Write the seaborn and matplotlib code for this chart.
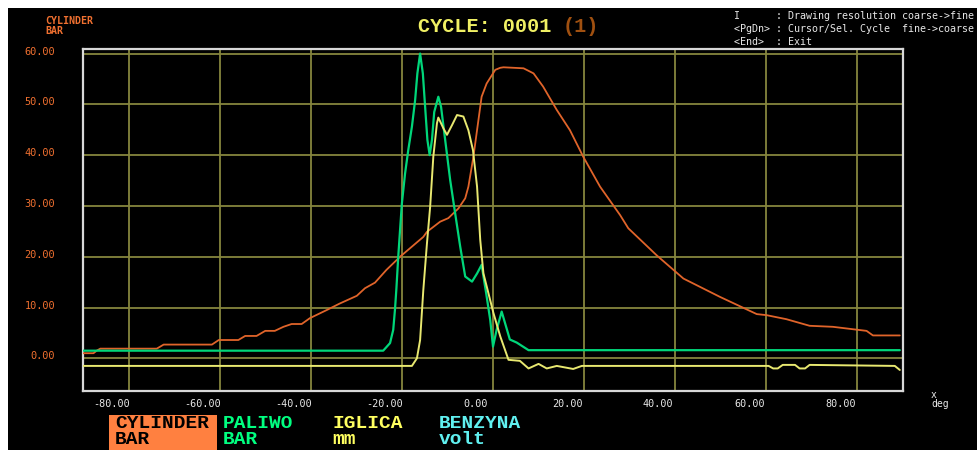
import matplotlib
matplotlib.use("Agg")
import matplotlib.pyplot as plt
from matplotlib.patches import Rectangle
from matplotlib.transforms import ScaledTranslation
import pandas as pd
import seaborn as sns

# Crank angle [deg] and channel readings for cycle 0001
cyl_deg = [-90, -87.7, -87, -86.2, -73.8, -72.3, -61.7, -60.2, -55.9, -54.4, -51.9, -50, -47.9,
           -46, -44.2, -42, -40.2, -36.5, -33.6, -29.9, -28.1, -25.9, -23.4, -20.4, -15.3,
           -14.5, -11.6, -9.8, -7.6, -6.1, -5.4, -4.3, -3.2, -2.5, -1.4, 0.5, 1.6, 2.3, 6.7,
           8.9, 11, 14, 16.9, 19.8, 23.5, 27.9, 29.7, 35.9, 41.8, 49.8, 57.9, 60, 64.4, 69.5,
           74.6, 82, 83.4, 89.3]
cyl_bar = [1.0, 1.0, 1.5, 1.9, 1.9, 2.7, 2.7, 3.6, 3.6, 4.4, 4.4, 5.4, 5.4,
           6.2, 6.75, 6.75, 7.9, 9.5, 10.8, 12.3, 13.8, 14.9, 17.4, 20.0, 23.9,
           24.9, 26.9, 27.6, 29.5, 31.5, 33.8, 39.7, 46.9, 51.5, 54.1, 56.8, 57.2, 57.3, 57.1,
           56.1, 53.5, 48.9, 44.9, 39.7, 33.8, 28.2, 25.6, 20.3, 15.7, 12.1, 8.7, 8.5, 7.7, 6.4,
           6.2, 5.4, 4.5, 4.5]

fuel_deg = [-90, -24.1, -22.6, -21.9, -21.5, -21.2, -20.8, -20.4, -20, -19.3, -18.6, -17.8,
            -17.1, -16.6, -16, -15.4, -14.9, -14.4, -13.9, -13.4, -12.9, -12.3, -12, -11.4,
            -10.5, -9.4, -8.3, -7.2, -6.1, -4.6, -3.5, -2.5, -1.5, -0.6, 0, 0.8, 1.9, 3.7,
            5.2, 7.8, 89.3]
fuel_bar = [1.5, 1.5, 3.0, 5.6, 9.8, 13.8, 20.0, 25.3, 30.5, 36.4, 41.0, 45.6,
            50.8, 56.1, 60.0, 56.1, 49.5, 43.0, 40.0, 43.0, 48.5, 50.5, 51.5, 49.5,
            43.0, 35.1, 28.5, 22.0, 16.1, 15.1, 16.7, 18.4, 12.8, 7.5, 2.3, 5.6, 9.2, 3.7,
            3.1, 1.6, 1.6]

needle_deg = [-90, -17.8, -16.7, -16, -15.3, -14.5, -13.8, -13.1, -12.3, -12, -10.9, -10.1,
              -9, -7.9, -6.5, -5.4, -4.4, -3.5, -2.8, -2.1, -1, 0.1, 1.6, 3.4, 5.9, 7.8, 10,
              11.8, 14, 17.6, 19.5, 60.5, 61.5, 62.5, 63.6, 66.3, 67.3, 68.5, 69.5, 88.2,
              89.3]
needle_mm = [-1.5, -1.5, 0.0, 3.6, 13.4, 22.6, 29.8, 39.7, 46.3, 47.4, 45.3, 44.0,
             45.9, 47.9, 47.6, 44.9, 41.0, 33.8, 23.3, 16.7, 12.8, 8.9, 4.3, -0.3, -0.5, -2.0, -1.1,
             -2.0, -1.5, -2.1, -1.5, -1.5, -2.0, -2.0, -1.3, -1.3, -2.0, -2.0, -1.3, -1.5,
             -2.3]

x_ticks = [-80, -60, -40, -20, 0, 20, 40, 60, 80]
y_ticks = [0, 10, 20, 30, 40, 50, 60]

channel_names = ["CYLINDER", "PALIWO", "IGLICA", "BENZYNA"]
channel_units = ["BAR", "BAR", "mm", "volt"]
channel_colors = ["#ff8040", "#00ff80", "#ffff60", "#60f0f0"]
trace_colors = ["#e0642a", "#00d67a", "#e8e870"]

help_lines = [
    "I      : Drawing resolution coarse->fine",
    "<PgDn> : Cursor/Sel. Cycle  fine->coarse",
    "<End>  : Exit",
]

W, H = 977, 450
MONO = "DejaVu Sans Mono"
BIG = "Liberation Mono"

sns.set_style("dark")
plt.rcParams["font.family"] = [MONO, "DejaVu Sans"]

fig = plt.figure(figsize=(W / 100, H / 100), dpi=100, facecolor="white")
# black screen area inside the white margin
fig.patches.append(Rectangle((8 / W, 0), 1 - 8 / W, 1 - 8 / H, transform=fig.transFigure,
                             facecolor="black", edgecolor="none", zorder=-5))


def px(x, y):
    return x / W, 1 - y / H


ax = fig.add_axes([83 / W, (H - 391) / H, (903 - 83) / W, (391 - 49) / H])
ax.set_zorder(3)
ax.set_facecolor("black")

traces = [
    (cyl_deg, cyl_bar, trace_colors[0], 1.3),
    (fuel_deg, fuel_bar, trace_colors[1], 1.6),
    (needle_deg, needle_mm, trace_colors[2], 1.4),
]
for deg, val, col, lw in traces:
    df = pd.DataFrame({"deg": deg, "val": val})
    sns.lineplot(data=df, x="deg", y="val", ax=ax, color=col, linewidth=lw,
                 estimator=None, sort=False, zorder=3)

ax.set_xlim(-90, 90)
ax.set_ylim(-6.44, 60.9)
ax.set_xlabel("")
ax.set_ylabel("")

ax.set_xticks(x_ticks, labels=[f"{v:.2f}" for v in x_ticks])
ax.set_yticks(y_ticks, labels=[f"{v:.2f}" for v in y_ticks])
ax.grid(True, color="#86863e", linewidth=1.3, zorder=1)
ax.set_axisbelow(True)
ax.tick_params(axis="both", length=0)
ax.tick_params(axis="x", colors="#e8e8e8", labelsize=7.3, pad=6)
ax.tick_params(axis="y", colors="#f07030", labelsize=7.4, pad=20)
for lbl in ax.get_xticklabels():
    lbl.set_fontfamily(MONO)
    lbl.set_transform(lbl.get_transform() + ScaledTranslation(-17 / 100, 0, fig.dpi_scale_trans))
for lbl in ax.get_yticklabels():
    lbl.set_fontfamily(MONO)
    lbl.set_transform(lbl.get_transform() + ScaledTranslation(0, 3 / 100, fig.dpi_scale_trans))

for s in ax.spines.values():
    s.set_visible(True)
    s.set_color("#d8d8d8")
    s.set_linewidth(1.6)

# header
fig.text(*px(45, 21), "CYLINDER", color="#f07030", fontsize=7.2, fontweight="bold",
         family=MONO, va="center", ha="left")
fig.text(*px(45, 31), "BAR", color="#f07030", fontsize=7.2, fontweight="bold",
         family=MONO, va="center", ha="left")
fig.text(*px(418, 27), "CYCLE: 0001", color="#f0f064", fontsize=14.5, fontweight="bold",
         family=BIG, va="center", ha="left")
fig.text(*px(563, 27), "(1)", color="#a05010", fontsize=14.5, fontweight="bold",
         family=BIG, va="center", ha="left")
for i, line in enumerate(help_lines):
    fig.text(*px(734, 16 + 12.8 * i), line, color="#e8e8e8", fontsize=7.2,
             family=MONO, va="center", ha="left")

# axis unit
fig.text(*px(931, 395), "x", color="#e8e8e8", fontsize=7, family=MONO, va="center", ha="left")
fig.text(*px(931, 404), "deg", color="#e8e8e8", fontsize=7, family=MONO, va="center", ha="left")

# channel legend
fig.patches.append(Rectangle(px(109, 450), (217 - 109) / W, (450 - 414.6) / H,
                             transform=fig.transFigure, facecolor=channel_colors[0],
                             edgecolor="none", zorder=1))
col_x = [115, 223, 332, 439]
for i, (name, unit) in enumerate(zip(channel_names, channel_units)):
    tc = "black" if i == 0 else channel_colors[i]
    fig.text(*px(col_x[i], 424), name, color=tc, fontsize=14.0, fontweight="bold",
             family=BIG, va="center", ha="left", zorder=2)
    fig.text(*px(col_x[i], 439.5), unit, color=tc, fontsize=14.0, fontweight="bold",
             family=BIG, va="center", ha="left", zorder=2)

fig.savefig("out.png", dpi=100, facecolor=fig.get_facecolor())
